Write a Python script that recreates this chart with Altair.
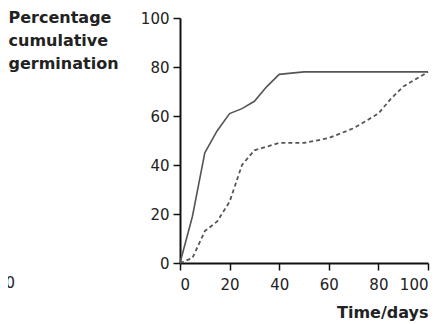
import altair as alt
import pandas as pd

solid_x = [0, 5, 10, 15, 20, 25, 30, 35, 40, 50, 100]
solid_y = [0, 19, 45, 54, 61, 63, 66, 72, 77, 78, 78]

dashed_x = [0, 5, 10, 15, 20, 25, 30, 40, 50, 60, 70, 75, 80, 85, 90, 95, 100]
dashed_y = [0, 2, 13, 17, 25, 40, 46, 49, 49, 51, 55, 58, 61, 67, 72, 75, 78]

x_ticks = [0, 20, 40, 60, 80, 100]
y_ticks = [0, 20, 40, 60, 80, 100]

edge_text = ["00"]  # fragment of a neighbouring chart cut at the left edge

df_s = pd.DataFrame({"t": solid_x, "g": solid_y})
df_d = pd.DataFrame({"t": dashed_x, "g": dashed_y})
df_e = pd.DataFrame({"label": edge_text})

W, H = 248, 245

xenc = alt.X("t:Q", scale=alt.Scale(domain=[0, 100], nice=False),
             axis=alt.Axis(values=x_ticks, title="Time/days", titleAngle=0,
                           titleAlign="right", titleX=W, titleY=54,
                           titleBaseline="alphabetic", labelPadding=7))
yenc = alt.Y("g:Q", scale=alt.Scale(domain=[0, 100], nice=False),
             axis=alt.Axis(values=y_ticks,
                           title=["Percentage", "cumulative", "germination"],
                           titleAngle=0, titleAlign="left", titleX=-172,
                           titleY=4, titleBaseline="alphabetic",
                           titleLineHeight=23, labelPadding=4))

solid = alt.Chart(df_s).mark_line(color="#555555", strokeWidth=1.6).encode(x=xenc, y=yenc)
dashed = alt.Chart(df_d).mark_line(color="#555555", strokeWidth=1.8,
                                    strokeDash=[4, 3]).encode(x="t:Q", y="g:Q")
edge = alt.Chart(df_e).mark_text(
    align="right", baseline="middle", font="DejaVu Sans", fontSize=15,
    color="#222222"
).encode(text="label:N", x=alt.value(-165), y=alt.value(265))

chart = (solid + dashed + edge).properties(
    width=W, height=H,
    autosize=alt.AutoSizeParams(type="none"),
    padding={"left": 172, "top": 10, "right": 7, "bottom": 59},
).configure_view(stroke=None).configure_axis(
    grid=False, domainColor="#111111", domainWidth=2, tickColor="#111111",
    tickWidth=1.5, tickSize=7, labelFont="DejaVu Sans", labelFontSize=15,
    labelColor="#222222", titleFont="DejaVu Sans",
    titleFontSize=16, titleFontWeight="bold", titleColor="#222222",
)

chart.save("out.html", embed_options={"renderer": "svg", "actions": False})
